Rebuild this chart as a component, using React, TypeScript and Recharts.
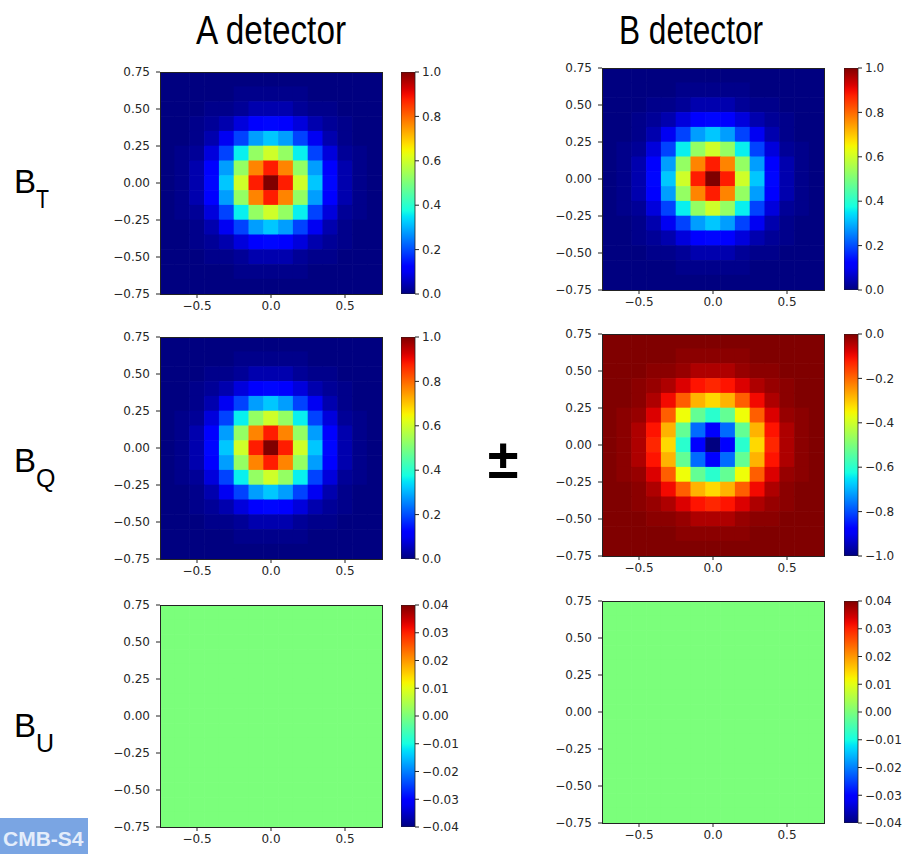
import React from 'react';
import { ScatterChart, Scatter, XAxis, YAxis, BarChart, Bar } from 'recharts';

// ---- data ----
const cellCenters = [-0.7, -0.6, -0.5, -0.4, -0.3, -0.2, -0.1, 0, 0.1, 0.2, 0.3, 0.4, 0.5, 0.6, 0.7];
const axisYTicks = [-0.75, -0.5, -0.25, 0, 0.25, 0.5, 0.75];
const axisXTicks = [-0.5, 0, 0.5];
const cbTicksUnit = [0, 0.2, 0.4, 0.6, 0.8, 1.0];
const cbTicksNeg = [-1.0, -0.8, -0.6, -0.4, -0.2, 0];
const cbTicksU = [-0.04, -0.03, -0.02, -0.01, 0, 0.01, 0.02, 0.03, 0.04];
const columnTitles = ['A detector', 'B detector'];

// rows from top (y = 0.7) to bottom (y = -0.7); columns from x = -0.7 to 0.7
const beamIntensity: number[][] = [
  [0, 0, 0, 0, 0, 0, 0, 0, 0, 0, 0, 0, 0, 0, 0],
  [0, 0, 0, 0, 0, 0.01, 0.01, 0.01, 0.01, 0.01, 0, 0, 0, 0, 0],
  [0, 0, 0, 0.01, 0.01, 0.02, 0.04, 0.04, 0.04, 0.02, 0.01, 0.01, 0, 0, 0],
  [0, 0, 0.01, 0.02, 0.04, 0.08, 0.11, 0.13, 0.11, 0.08, 0.04, 0.02, 0.01, 0, 0],
  [0, 0, 0.01, 0.04, 0.10, 0.19, 0.28, 0.32, 0.28, 0.19, 0.10, 0.04, 0.01, 0, 0],
  [0, 0.01, 0.02, 0.08, 0.19, 0.36, 0.53, 0.60, 0.53, 0.36, 0.19, 0.08, 0.02, 0.01, 0],
  [0, 0.01, 0.04, 0.11, 0.28, 0.53, 0.77, 0.88, 0.77, 0.53, 0.28, 0.11, 0.04, 0.01, 0],
  [0, 0.01, 0.04, 0.13, 0.32, 0.60, 0.88, 1.00, 0.88, 0.60, 0.32, 0.13, 0.04, 0.01, 0],
  [0, 0.01, 0.04, 0.11, 0.28, 0.53, 0.77, 0.88, 0.77, 0.53, 0.28, 0.11, 0.04, 0.01, 0],
  [0, 0.01, 0.02, 0.08, 0.19, 0.36, 0.53, 0.60, 0.53, 0.36, 0.19, 0.08, 0.02, 0.01, 0],
  [0, 0, 0.01, 0.04, 0.10, 0.19, 0.28, 0.32, 0.28, 0.19, 0.10, 0.04, 0.01, 0, 0],
  [0, 0, 0.01, 0.02, 0.04, 0.08, 0.11, 0.13, 0.11, 0.08, 0.04, 0.02, 0.01, 0, 0],
  [0, 0, 0, 0.01, 0.01, 0.02, 0.04, 0.04, 0.04, 0.02, 0.01, 0.01, 0, 0, 0],
  [0, 0, 0, 0, 0, 0.01, 0.01, 0.01, 0.01, 0.01, 0, 0, 0, 0, 0],
  [0, 0, 0, 0, 0, 0, 0, 0, 0, 0, 0, 0, 0, 0, 0],
];

const beamBQ: number[][] = [
  [0, 0, 0, 0, 0, 0, 0, 0, 0, 0, 0, 0, 0, 0, 0],
  [0, 0, 0, 0, 0, -0.01, -0.01, -0.01, -0.01, -0.01, 0, 0, 0, 0, 0],
  [0, 0, 0, -0.01, -0.01, -0.02, -0.04, -0.04, -0.04, -0.02, -0.01, -0.01, 0, 0, 0],
  [0, 0, -0.01, -0.02, -0.04, -0.08, -0.11, -0.13, -0.11, -0.08, -0.04, -0.02, -0.01, 0, 0],
  [0, 0, -0.01, -0.04, -0.10, -0.19, -0.28, -0.32, -0.28, -0.19, -0.10, -0.04, -0.01, 0, 0],
  [0, -0.01, -0.02, -0.08, -0.19, -0.36, -0.53, -0.60, -0.53, -0.36, -0.19, -0.08, -0.02, -0.01, 0],
  [0, -0.01, -0.04, -0.11, -0.28, -0.53, -0.77, -0.88, -0.77, -0.53, -0.28, -0.11, -0.04, -0.01, 0],
  [0, -0.01, -0.04, -0.13, -0.32, -0.60, -0.88, -1.00, -0.88, -0.60, -0.32, -0.13, -0.04, -0.01, 0],
  [0, -0.01, -0.04, -0.11, -0.28, -0.53, -0.77, -0.88, -0.77, -0.53, -0.28, -0.11, -0.04, -0.01, 0],
  [0, -0.01, -0.02, -0.08, -0.19, -0.36, -0.53, -0.60, -0.53, -0.36, -0.19, -0.08, -0.02, -0.01, 0],
  [0, 0, -0.01, -0.04, -0.10, -0.19, -0.28, -0.32, -0.28, -0.19, -0.10, -0.04, -0.01, 0, 0],
  [0, 0, -0.01, -0.02, -0.04, -0.08, -0.11, -0.13, -0.11, -0.08, -0.04, -0.02, -0.01, 0, 0],
  [0, 0, 0, -0.01, -0.01, -0.02, -0.04, -0.04, -0.04, -0.02, -0.01, -0.01, 0, 0, 0],
  [0, 0, 0, 0, 0, -0.01, -0.01, -0.01, -0.01, -0.01, 0, 0, 0, 0, 0],
  [0, 0, 0, 0, 0, 0, 0, 0, 0, 0, 0, 0, 0, 0, 0],
];

const beamU: number[][] = [
  [0, 0, 0, 0, 0, 0, 0, 0, 0, 0, 0, 0, 0, 0, 0],
  [0, 0, 0, 0, 0, 0, 0, 0, 0, 0, 0, 0, 0, 0, 0],
  [0, 0, 0, 0, 0, 0, 0, 0, 0, 0, 0, 0, 0, 0, 0],
  [0, 0, 0, 0, 0, 0, 0, 0, 0, 0, 0, 0, 0, 0, 0],
  [0, 0, 0, 0, 0, 0, 0, 0, 0, 0, 0, 0, 0, 0, 0],
  [0, 0, 0, 0, 0, 0, 0, 0, 0, 0, 0, 0, 0, 0, 0],
  [0, 0, 0, 0, 0, 0, 0, 0, 0, 0, 0, 0, 0, 0, 0],
  [0, 0, 0, 0, 0, 0, 0, 0, 0, 0, 0, 0, 0, 0, 0],
  [0, 0, 0, 0, 0, 0, 0, 0, 0, 0, 0, 0, 0, 0, 0],
  [0, 0, 0, 0, 0, 0, 0, 0, 0, 0, 0, 0, 0, 0, 0],
  [0, 0, 0, 0, 0, 0, 0, 0, 0, 0, 0, 0, 0, 0, 0],
  [0, 0, 0, 0, 0, 0, 0, 0, 0, 0, 0, 0, 0, 0, 0],
  [0, 0, 0, 0, 0, 0, 0, 0, 0, 0, 0, 0, 0, 0, 0],
  [0, 0, 0, 0, 0, 0, 0, 0, 0, 0, 0, 0, 0, 0, 0],
  [0, 0, 0, 0, 0, 0, 0, 0, 0, 0, 0, 0, 0, 0, 0],
];

// ---- colormap (matplotlib jet) ----
const JET_R = [[0, 0], [0.35, 0], [0.66, 1], [0.89, 1], [1, 0.5]];
const JET_G = [[0, 0], [0.125, 0], [0.375, 1], [0.64, 1], [0.91, 0], [1, 0]];
const JET_B = [[0, 0.5], [0.11, 1], [0.34, 1], [0.65, 0], [1, 0]];
function seg(pts: number[][], t: number) {
  if (t <= pts[0][0]) return pts[0][1];
  for (let i = 1; i < pts.length; i++) {
    if (t <= pts[i][0]) {
      const [x0, y0] = pts[i - 1];
      const [x1, y1] = pts[i];
      return y0 + (y1 - y0) * (t - x0) / (x1 - x0);
    }
  }
  return pts[pts.length - 1][1];
}
function jet(t: number) {
  const c = Math.max(0, Math.min(1, t));
  const r = Math.round(seg(JET_R, c) * 255);
  const g = Math.round(seg(JET_G, c) * 255);
  const b = Math.round(seg(JET_B, c) * 255);
  return `rgb(${r},${g},${b})`;
}
const GRAD_STOPS = Array.from({ length: 41 }, (_, i) => i / 40);

const fmt = (d: number) => (v: number) => {
  const s = (Math.abs(v) < 1e-9 ? 0 : v).toFixed(d);
  return s.replace('-', '\u2212');
};

const TICK_FONT = { fill: '#262626', fontSize: 12, fontFamily: "'DejaVu Sans', sans-serif" };
const INK = '#222';

type PanelProps = {
  id: string;
  matrix: number[][];
  vmin: number;
  vmax: number;
  left: number;
  top: number;
  size: number;
  cbLeft: number;
  cbTicks: number[];
  cbDecimals: number;
};

function HeatPanel(p: PanelProps) {
  const points = p.matrix.flatMap((row, i) =>
    row.map((v, j) => ({ x: cellCenters[j], y: cellCenters[cellCenters.length - 1 - i], v }))
  );
  const cw = p.size / cellCenters.length;
  const yAxisW = 62;
  const padTop = 10;
  const cellShape = (props: any) => {
    const { cx, cy, payload } = props;
    if (cx == null || cy == null) return <g />;
    const t = (payload.v - p.vmin) / (p.vmax - p.vmin);
    return (
      <rect
        x={cx - cw / 2 - 0.3}
        y={cy - cw / 2 - 0.3}
        width={cw + 0.6}
        height={cw + 0.6}
        fill={jet(t)}
        stroke="none"
      />
    );
  };
  const cbW = 14;
  const cbAxisW = 50;
  const cbData = [{ name: 'cb', range: [p.vmin, p.vmax] }];
  const gid = `jet-${p.id}`;
  return (
    <>
      <div style={{ position: 'absolute', left: p.left - yAxisW, top: p.top - padTop }}>
        <ScatterChart
          width={yAxisW + p.size + 10}
          height={padTop + p.size + 30}
          margin={{ top: padTop, right: 10, bottom: 0, left: 0 }}
        >
          <XAxis
            type="number"
            dataKey="x"
            domain={[-0.75, 0.75]}
            ticks={axisXTicks}
            tickFormatter={fmt(1)}
            allowDataOverflow
            axisLine={false}
            tickSize={4}
            tickMargin={3}
            tickLine={{ stroke: INK }}
            tick={TICK_FONT}
            height={30}
          />
          <YAxis
            type="number"
            dataKey="y"
            domain={[-0.75, 0.75]}
            ticks={axisYTicks}
            tickFormatter={fmt(2)}
            allowDataOverflow
            axisLine={false}
            tickSize={4}
            tickMargin={6}
            tickLine={{ stroke: INK }}
            tick={TICK_FONT}
            width={yAxisW}
          />
          <Scatter data={points} shape={cellShape} isAnimationActive={false} />
        </ScatterChart>
      </div>
      <div
        style={{
          position: 'absolute',
          left: p.left - 0.5,
          top: p.top - 0.5,
          width: p.size + 1,
          height: p.size + 1,
          border: `1px solid ${INK}`,
          boxSizing: 'border-box',
          pointerEvents: 'none',
        }}
      />
      <div style={{ position: 'absolute', left: p.cbLeft, top: p.top - padTop }}>
        <BarChart
          width={cbW + cbAxisW}
          height={p.size + 2 * padTop}
          data={cbData}
          margin={{ top: padTop, right: 0, bottom: padTop, left: 0 }}
          barCategoryGap={0}
        >
          <defs>
            <linearGradient id={gid} x1="0" y1="1" x2="0" y2="0">
              {GRAD_STOPS.map((t) => (
                <stop key={t} offset={t} stopColor={jet(t)} />
              ))}
            </linearGradient>
          </defs>
          <XAxis dataKey="name" type="category" hide />
          <YAxis
            orientation="right"
            type="number"
            domain={[p.vmin, p.vmax]}
            ticks={p.cbTicks}
            tickFormatter={fmt(p.cbDecimals)}
            allowDataOverflow
            axisLine={false}
            tickSize={4}
            tickMargin={3}
            tickLine={{ stroke: INK }}
            tick={TICK_FONT}
            width={cbAxisW}
          />
          <Bar dataKey="range" fill={`url(#${gid})`} stroke={INK} strokeWidth={0.8} isAnimationActive={false} />
        </BarChart>
      </div>
    </>
  );
}

export default function App() {
  const S = 222;
  const labelFont = "'Liberation Sans', Arial, sans-serif";
  return (
    <div style={{ position: 'absolute', left: 0, top: 0, width: 907, height: 854, background: '#fff', overflow: 'hidden' }}>
      <svg width={907} height={854} style={{ position: 'absolute', left: 0, top: 0 }}>
        <text x={196} y={44} textLength={150} lengthAdjust="spacingAndGlyphs" fontFamily={labelFont} fontSize={40} fill="#000">{columnTitles[0]}</text>
        <text x={619} y={44} textLength={144} lengthAdjust="spacingAndGlyphs" fontFamily={labelFont} fontSize={40} fill="#000">{columnTitles[1]}</text>
        <text x={14} y={193} fontFamily={labelFont} fontSize={33} fill="#000">
          B<tspan fontSize={25} dy={15} textLength={13} lengthAdjust="spacingAndGlyphs">T</tspan>
        </text>
        <text x={14} y={472} fontFamily={labelFont} fontSize={33} fill="#000">
          B<tspan fontSize={25} dy={15}>Q</tspan>
        </text>
        <text x={14} y={737} fontFamily={labelFont} fontSize={33} fill="#000">
          B<tspan fontSize={25} dy={15}>U</tspan>
        </text>
        <text x={503} y={478} textAnchor="middle" fontFamily={labelFont} fontWeight="bold" fontSize={56} fill="#000">±</text>
        <rect x={0} y={818} width={88} height={36} fill="#7aa5e3" />
        <text x={3} y={846} fontFamily={labelFont} fontWeight="bold" fontSize={21} fill="#e4edfb">CMB-S4</text>
      </svg>
      <HeatPanel id="at" matrix={beamIntensity} vmin={0} vmax={1} left={160} top={72} size={S} cbLeft={401} cbTicks={cbTicksUnit} cbDecimals={1} />
      <HeatPanel id="aq" matrix={beamIntensity} vmin={0} vmax={1} left={160} top={337} size={S} cbLeft={401} cbTicks={cbTicksUnit} cbDecimals={1} />
      <HeatPanel id="au" matrix={beamU} vmin={-0.04} vmax={0.04} left={160} top={605} size={S} cbLeft={401} cbTicks={cbTicksU} cbDecimals={2} />
      <HeatPanel id="bt" matrix={beamIntensity} vmin={0} vmax={1} left={602} top={68} size={S} cbLeft={844} cbTicks={cbTicksUnit} cbDecimals={1} />
      <HeatPanel id="bq" matrix={beamBQ} vmin={-1} vmax={0} left={602} top={334} size={S} cbLeft={844} cbTicks={cbTicksNeg} cbDecimals={1} />
      <HeatPanel id="bu" matrix={beamU} vmin={-0.04} vmax={0.04} left={602} top={601} size={S} cbLeft={844} cbTicks={cbTicksU} cbDecimals={2} />
    </div>
  );
}
